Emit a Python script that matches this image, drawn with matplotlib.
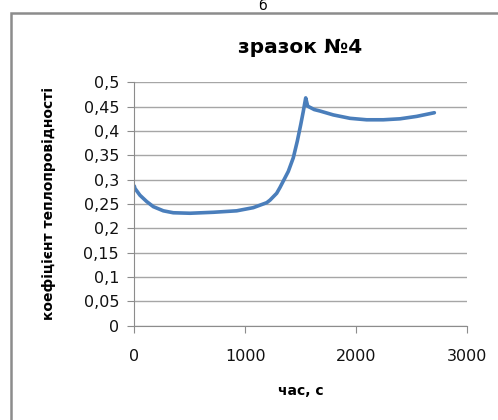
import matplotlib.pyplot as plt
from matplotlib.patches import Rectangle

# час (с) та коефіцієнт теплопровідності, зразок №4
chas = [0, 6, 51, 112, 172, 262, 352, 503, 713, 924, 1074, 1195, 1225, 1285,
        1315, 1390, 1435, 1471, 1502, 1525, 1547,
        1565, 1624, 1676, 1796, 1947, 2097, 2247, 2398, 2549, 2708]
koef = [0.287, 0.282, 0.268, 0.255, 0.2445, 0.236, 0.232, 0.231, 0.233, 0.236,
        0.2425, 0.2527, 0.258, 0.272, 0.284, 0.317, 0.345, 0.379, 0.413, 0.440,
        0.468, 0.451, 0.444, 0.441, 0.433, 0.426, 0.423, 0.423, 0.425, 0.430, 0.4375]

x_ticks = [0, 1000, 2000, 3000]
y_ticks = [0, 0.05, 0.1, 0.15, 0.2, 0.25, 0.3, 0.35, 0.4, 0.45, 0.5]

W, H = 498, 420
fig = plt.figure(figsize=(W / 100, H / 100), dpi=100)

# рамка діаграми
fig.patches.append(Rectangle((11 / W, -0.1), 1.0, 1.1 - 13 / H,
                             transform=fig.transFigure, fill=False,
                             edgecolor='#8c8c8c', linewidth=1.8))

fig.text(262 / W, 1 - 10 / H, 'б', ha='center', va='baseline', fontsize=10)

ax = fig.add_axes([134.3 / W, 1 - 325.7 / H, 332.4 / W, 243.4 / H])
ax.plot(chas, koef, color='#4a7ebb', linewidth=2.6,
        solid_capstyle='round', solid_joinstyle='round')

ax.set_xlim(0, 3000)
ax.set_ylim(0, 0.5)
ax.set_xticks(x_ticks)
ax.set_xticklabels([str(v) for v in x_ticks])
ax.set_yticks(y_ticks)
ax.set_yticklabels([f'{v:g}'.replace('.', ',') for v in y_ticks])

ax.grid(axis='y', color='#a6a6a6', linewidth=1.0)
ax.set_axisbelow(True)
for s in ['top', 'right']:
    ax.spines[s].set_visible(False)
for s in ['left', 'bottom']:
    ax.spines[s].set_color('#8c8c8c')
ax.tick_params(axis='both', colors='#8c8c8c', length=5, labelcolor='#111111',
               labelsize=11.5)
ax.tick_params(axis='x', pad=12)
ax.tick_params(axis='y', pad=6)

ax.set_title('зразок №4', fontsize=14.5, fontweight='bold', pad=21)
ax.set_xlabel('час, с', fontsize=10, fontweight='bold', labelpad=14)
ax.set_ylabel('коефіцієнт теплопровідності', fontsize=10, fontweight='bold',
              labelpad=20)

fig.savefig('out.png', dpi=100)
